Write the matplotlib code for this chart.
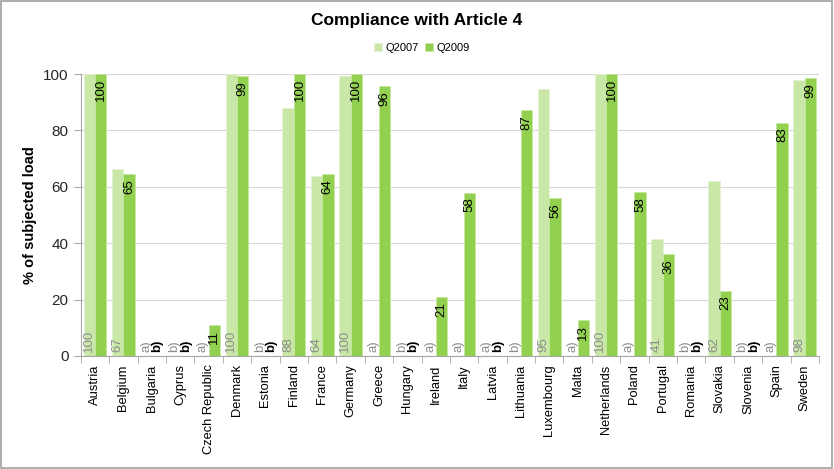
import matplotlib
matplotlib.use("Agg")
import matplotlib.pyplot as plt
import numpy as np
from matplotlib.patches import Rectangle

plt.rcParams['font.family'] = ['Liberation Sans', 'DejaVu Sans']

countries = ["Austria", "Belgium", "Bulgaria", "Cyprus", "Czech Republic", "Denmark",
             "Estonia", "Finland", "France", "Germany", "Greece", "Hungary", "Ireland",
             "Italy", "Latvia", "Lithuania", "Luxembourg", "Malta", "Netherlands",
             "Poland", "Portugal", "Romania", "Slovakia", "Slovenia", "Spain", "Sweden"]

# None = no value reported (see notes)
q2007 = [100, 66.5, None, None, None, 100, None, 88, 63.8, 99.4, None, None, None,
         None, None, None, 94.6, None, 100, None, 41.4, None, 62.1, None, None, 97.9]
q2007_labels = ["100", "67", "a)", "b)", "a)", "100", "b)", "88", "64", "100", "a)", "b)", "a)",
                "a)", "a)", "b)", "95", "a)", "100", "a)", "41", "b)", "62", "b)", "a)", "98"]

q2009 = [100, 64.5, None, None, 11, 99.3, None, 100, 64.4, 100, 95.7, None, 20.8,
         57.9, None, 87.2, 55.9, 12.8, 100, 58.2, 36.2, None, 23.2, None, 82.7, 98.6]
q2009_labels = ["100", "65", "b)", "b)", "11", "99", "b)", "100", "64", "100", "96", "b)", "21",
                "58", "b)", "87", "56", "13", "100", "58", "36", "b)", "23", "b)", "83", "99"]

c07 = "#C9E7A7"
c09 = "#92D050"

fig = plt.figure(figsize=(8.34, 4.69), dpi=100)
ax = fig.add_axes([0.097, 0.241, 0.885, 0.601])

x = np.arange(len(countries))
w = 0.4
v07 = [v if v is not None else 0 for v in q2007]
v09 = [v if v is not None else 0 for v in q2009]
ax.bar(x - w/2, v07, w, color=c07, edgecolor="#E3F2D2", linewidth=0.6, label="Q2007", zorder=2)
ax.bar(x + w/2, v09, w, color=c09, edgecolor="#C5E8A0", linewidth=0.6, label="Q2009", zorder=2)

for i in range(len(countries)):
    # Q2007 labels at base, grey
    ax.annotate(q2007_labels[i], (x[i] - w/2, 0), xytext=(0, 3), textcoords="offset points",
                rotation=90, ha="center", va="bottom", fontsize=9.5, color="#8C8C8C", zorder=3)
    if q2009[i] is None:
        ax.annotate(q2009_labels[i], (x[i] + w/2, 0), xytext=(0, 3), textcoords="offset points",
                    rotation=90, ha="center", va="bottom", fontsize=9.5, color="black",
                    fontweight="bold", zorder=3)
    else:
        ax.annotate(q2009_labels[i], (x[i] + w/2, q2009[i]), xytext=(0, -3.5),
                    textcoords="offset points", rotation=90, ha="center", va="top",
                    fontsize=9.5, color="black", zorder=3)

ax.set_xlim(-0.5, len(countries) - 0.5)
ax.set_ylim(0, 100)
ax.set_yticks([0, 20, 40, 60, 80, 100])
ax.yaxis.grid(True, color="#D9D9D9", linewidth=0.8, zorder=0)
ax.set_axisbelow(True)
ax.set_xticks(x)
ax.set_xticklabels(countries, rotation=90, fontsize=9.3)
ax.set_xticks(np.arange(-0.5, len(countries), 1), minor=True)
ax.tick_params(axis="x", which="major", length=0, pad=6)
ax.tick_params(axis="x", which="minor", length=5, color="#A6A6A6", direction="out")
ax.tick_params(axis="y", length=5, color="#A6A6A6", labelsize=11, labelcolor="#262626", pad=4)
for s in ["top", "right"]:
    ax.spines[s].set_visible(False)
ax.spines["left"].set_color("#A6A6A6")
ax.spines["bottom"].set_color("#A6A6A6")
ax.set_ylabel("% of subjected load", fontsize=10.5, fontweight="bold", labelpad=4)

fig.suptitle("Compliance with Article 4", fontsize=12.5, fontweight="bold", y=0.972)
leg = fig.legend(loc="center", bbox_to_anchor=(0.506, 0.898), ncol=2, frameon=False,
                 fontsize=8, handlelength=0.7, handleheight=0.7, handletextpad=0.3,
                 columnspacing=0.6)

fig.patches.append(Rectangle((0.001, 0.003), 0.997, 0.995, transform=fig.transFigure,
                             fill=False, edgecolor="#A0A0A0", linewidth=1.2))

fig.savefig("out.png", dpi=100)
